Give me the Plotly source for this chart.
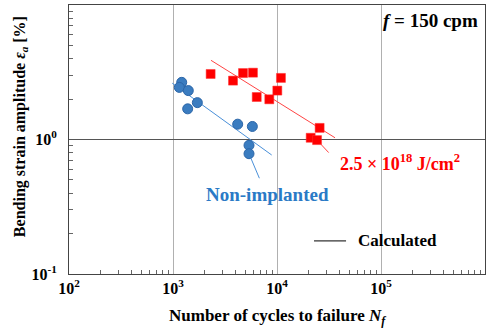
import plotly.graph_objects as go

# Data
non_N = [1213, 1151, 1403, 1714, 1384, 4188, 5794, 5380, 5380]
non_eps = [2.66, 2.44, 2.31, 1.88, 1.69, 1.30, 1.25, 0.905, 0.784]
imp_N = [2301, 3776, 4711, 5872, 6384, 8433, 10070, 10914, 25700, 21080, 24270]
imp_eps = [3.07, 2.74, 3.12, 3.14, 2.07, 1.99, 2.31, 2.87, 1.22, 1.03, 0.99]
calc_non_N = [984, 8890]
calc_non_eps = [2.62, 0.767]
calc_imp_N = [2318, 36140]
calc_imp_eps = [3.88, 1.03]
x_tickvals = [1e2, 1e3, 1e4, 1e5, 1e6]
x_ticktext = ["10<sup>2</sup>", "10<sup>3</sup>", "10<sup>4</sup>", "10<sup>5</sup>", "10<sup>6</sup>"]
y_tickvals = [0.1, 1, 10]
y_ticktext = ["10<sup>-1</sup>", "10<sup>0</sup>", "10<sup>1</sup>"]

BLUE = "#3a7cc0"
RED = "#ff0000"
FONT = "Liberation Serif"

fig = go.Figure()
fig.add_trace(go.Scatter(x=calc_non_N, y=calc_non_eps, mode="lines",
                         line=dict(color="#4a90d9", width=1), showlegend=False))
fig.add_trace(go.Scatter(x=calc_imp_N, y=calc_imp_eps, mode="lines",
                         line=dict(color="#ff4444", width=1), showlegend=False))
fig.add_trace(go.Scatter(x=non_N, y=non_eps, mode="markers",
                         marker=dict(symbol="circle", size=10, color=BLUE,
                                     line=dict(color="#2c66a8", width=1)),
                         showlegend=False))
fig.add_trace(go.Scatter(x=imp_N, y=imp_eps, mode="markers",
                         marker=dict(symbol="square", size=9, color=RED,
                                     line=dict(color="#ff3030", width=0.5)),
                         showlegend=False))

minor_x = [k * 10 ** e for e in range(2, 6) for k in range(2, 10)]
minor_y = [k * 10 ** e for e in range(-1, 1) for k in range(2, 10)]

tick_font = dict(family=FONT, size=16, color="black", weight="bold")

fig.update_xaxes(type="log", range=[2, 6], tickmode="array", tickvals=x_tickvals,
                 ticktext=x_ticktext, showgrid=True, gridcolor="#b0b0b0", gridwidth=1,
                 showline=True, linecolor="#444", linewidth=1, mirror=True,
                 ticks="inside", ticklen=0, zeroline=False, ticklabelstandoff=0,
                 tickfont=tick_font,
                 minor=dict(tickmode="array", tickvals=minor_x, ticks="inside",
                            ticklen=4, tickcolor="#666", showgrid=False))
fig.update_yaxes(type="log", range=[-1, 1], tickmode="array", tickvals=y_tickvals,
                 ticktext=y_ticktext, showgrid=True, gridcolor="#555", gridwidth=1,
                 showline=True, linecolor="#444", linewidth=1, mirror=True,
                 ticks="inside", ticklen=0, zeroline=False, ticklabelstandoff=8,
                 tickfont=tick_font,
                 minor=dict(tickmode="array", tickvals=minor_y, ticks="inside",
                            ticklen=4, tickcolor="#666", showgrid=False))

annotations = [
    dict(text="<b>Number of cycles to failure <i>N<sub>f</sub></i></b>", xref="paper", yref="paper",
         x=0.5, y=-0.16, xanchor="center", yanchor="middle", showarrow=False,
         font=dict(family=FONT, size=17, color="black")),
    dict(text="<b>Bending strain amplitude <i>ε<sub>a</sub></i> [%]</b>", xref="paper", yref="paper",
         x=(20 - 69) / 416, y=0.546, xanchor="center", yanchor="middle", showarrow=False,
         textangle=-90, font=dict(family=FONT, size=16, color="black")),
    dict(text="<b><i>f</i> = 150 cpm</b>", xref="paper", yref="paper",
         x=0.988, y=0.944, xanchor="right", yanchor="middle", showarrow=False,
         font=dict(family=FONT, size=19, color="black")),
    dict(text="<b>Non-implanted</b>", xref="paper", yref="paper",
         x=0.477, y=0.297, xanchor="center", yanchor="middle", showarrow=False,
         font=dict(family=FONT, size=19, color="#2a7ac6")),
    dict(text="<b>2.5 × 10<sup>18</sup> J/cm<sup>2</sup></b>", xref="paper", yref="paper",
         x=0.795, y=0.413, xanchor="center", yanchor="middle", showarrow=False,
         font=dict(family=FONT, size=18, color=RED)),
    dict(text="<b>Calculated</b>", xref="paper", yref="paper",
         x=0.690, y=0.123, xanchor="left", yanchor="middle", showarrow=False,
         font=dict(family=FONT, size=17, color="black")),
    # leader lines
    dict(text="", x=3.7308, y=-0.1057, xref="x", yref="y", showarrow=True, arrowhead=0,
         arrowwidth=1, arrowcolor="#4a90d9", ax=11, ay=26, standoff=5),
    dict(text="", x=4.3851, y=-0.0044, xref="x", yref="y", showarrow=True, arrowhead=0,
         arrowwidth=1, arrowcolor="#ff4444", ax=13, ay=14, standoff=5),
]

fig.update_layout(
    width=496, height=331,
    margin=dict(l=69, r=11, t=5, b=57),
    plot_bgcolor="white", paper_bgcolor="white",
    annotations=annotations,
    shapes=[dict(type="line", xref="paper", yref="paper", x0=0.589, x1=0.666,
                 y0=0.123, y1=0.123, line=dict(color="black", width=1))],
    showlegend=False,
)

fig.write_html("out.html")
